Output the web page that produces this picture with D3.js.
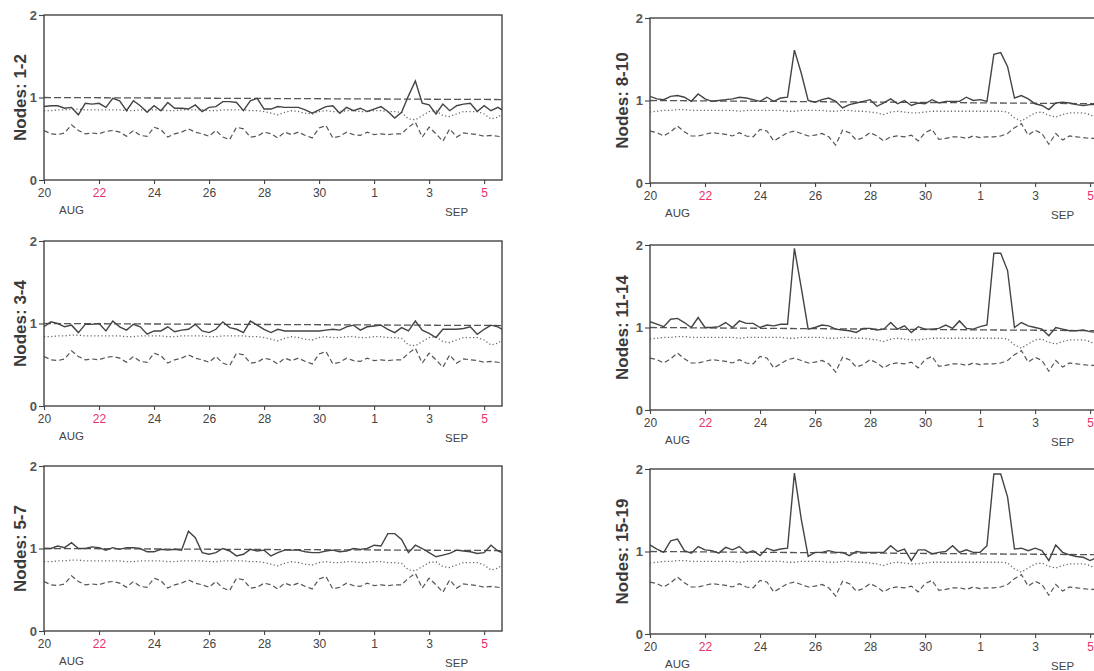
<html>
<head>
<meta charset="utf-8">
<title>nodes</title>
<script src="https://cdn.jsdelivr.net/npm/d3@7"></script>
<style>
  body { margin: 0; background: #fff; }
  .axis path { stroke: #444; stroke-width: 1.3; }
  .axis line { stroke: #444; stroke-width: 1.1; }
  .axis text { font-family: "Liberation Sans", Arial, sans-serif; font-size: 12px; fill: #444; }
  .ylab { font-family: "Liberation Sans", Arial, sans-serif; font-size: 17px; font-weight: bold; fill: #3a3a3a; }
  .mon { font-family: "Liberation Sans", Arial, sans-serif; font-size: 11.5px; fill: #444; }
</style>
</head>
<body>
<script>

// x ticks: days since Aug 20 (6-hourly samples)
var tickDays = [0, 2, 4, 6, 8, 10, 12, 14, 16];
var tickLabels = ['20', '22', '24', '26', '28', '30', '1', '3', '5'];
var redTicks = ['22', '5'];
var yTicks = [0, 1, 2];

var labels = ['Nodes: 1-2', 'Nodes: 8-10', 'Nodes: 3-4', 'Nodes: 11-14', 'Nodes: 5-7', 'Nodes: 15-19'];

var solid12 = [0.89,0.90,0.90,0.87,0.88,0.79,0.93,0.92,0.93,0.88,0.99,0.96,0.84,0.96,0.90,0.82,0.90,0.84,0.94,0.87,
  0.87,0.86,0.91,0.83,0.88,0.89,0.95,0.95,0.94,0.84,0.96,0.99,0.86,0.86,0.89,0.88,0.88,0.88,0.85,0.81,
  0.85,0.89,0.90,0.81,0.88,0.84,0.87,0.83,0.86,0.89,0.83,0.75,0.82,1.02,1.20,0.93,0.91,0.80,0.92,0.84,
  0.90,0.92,0.93,0.83,0.90,0.84,0.88,0.83];
var solid34 = [0.96,1.02,1.00,0.96,0.98,0.89,0.99,0.99,1.00,0.91,1.03,0.96,0.92,0.99,0.96,0.87,0.91,0.91,0.96,0.90,
  0.92,0.93,0.99,0.91,0.89,0.93,1.02,0.95,0.93,0.89,1.03,0.98,0.93,0.89,0.93,0.91,0.91,0.91,0.91,0.91,
  0.91,0.92,0.93,0.92,0.96,0.98,0.92,0.96,0.97,0.98,0.93,0.89,0.95,0.91,1.03,0.92,0.88,0.83,0.93,0.93,
  0.93,0.94,0.96,0.87,0.93,0.98,0.96,0.91];
var solid57 = [1.00,1.00,1.03,1.01,1.07,1.00,1.00,1.02,1.01,0.98,1.01,0.99,1.01,1.01,1.00,0.96,0.96,0.99,0.98,0.99,
  0.98,1.21,1.13,0.95,0.93,0.95,1.00,0.97,0.91,0.93,0.99,0.97,0.98,0.91,0.95,0.98,0.98,0.98,0.96,0.95,
  0.95,0.97,0.98,0.96,0.97,1.00,0.99,1.00,1.04,1.03,1.18,1.18,1.11,0.95,1.04,1.00,0.95,0.90,0.92,0.94,
  0.98,0.97,0.96,0.94,0.95,1.04,0.97,0.94];
var solid810 = [1.05,1.02,1.01,1.05,1.06,1.04,0.99,1.08,1.02,0.99,1.00,1.01,1.02,1.04,1.03,1.01,0.99,1.04,0.99,1.03,
  1.04,1.61,1.33,1.00,0.98,1.01,1.03,0.99,0.91,0.95,0.97,0.99,1.01,0.93,0.97,1.02,0.96,1.00,0.94,0.97,
  0.96,1.01,0.97,0.99,0.99,0.99,1.04,1.00,1.01,0.99,1.56,1.58,1.41,1.03,1.06,1.02,0.96,0.94,0.89,0.97,
  0.98,0.97,0.95,0.94,0.95,0.95,0.94,0.94];
var solid1114 = [1.07,1.04,1.01,1.10,1.11,1.06,1.00,1.12,1.00,1.00,1.01,1.06,1.00,1.08,1.05,1.05,1.00,1.03,1.02,1.04,
  1.04,1.96,1.48,0.98,1.00,1.03,1.02,0.98,0.97,0.96,0.94,0.99,0.99,0.97,0.98,1.06,0.98,1.02,0.94,1.01,
  0.98,0.98,0.99,1.03,0.99,1.08,0.99,0.98,1.01,1.03,1.90,1.90,1.69,1.00,1.06,1.02,1.00,0.98,0.90,1.00,
  0.98,0.96,0.96,0.97,0.95,0.94,0.94,0.93];
var solid1519 = [1.08,1.03,0.99,1.13,1.15,1.01,0.98,1.06,1.02,1.01,0.98,1.05,1.02,1.06,0.98,1.01,0.95,1.04,1.01,1.03,
  1.04,1.95,1.39,0.94,0.99,0.99,1.01,0.99,0.99,0.95,1.00,0.99,0.99,0.99,0.99,1.07,1.00,1.03,0.89,1.02,
  1.02,0.97,0.99,1.00,1.07,0.99,1.02,0.99,0.99,1.07,1.94,1.94,1.66,1.03,1.04,1.01,1.04,1.01,0.89,1.08,
  0.99,0.96,0.94,0.93,0.89,0.93,0.92,0.92];

var dotLeft = [0.84,0.84,0.85,0.85,0.86,0.86,0.85,0.85,0.85,0.85,0.85,0.85,0.84,0.84,0.85,0.85,0.85,0.85,0.84,0.84,
  0.85,0.85,0.85,0.85,0.84,0.84,0.85,0.85,0.85,0.85,0.84,0.84,0.83,0.81,0.79,0.82,0.84,0.83,0.81,0.80,
  0.83,0.84,0.83,0.83,0.84,0.84,0.83,0.83,0.84,0.84,0.83,0.83,0.82,0.74,0.73,0.78,0.83,0.84,0.78,0.77,
  0.80,0.83,0.83,0.83,0.80,0.74,0.76,0.83];
var dotRight = [0.86,0.87,0.88,0.88,0.89,0.89,0.88,0.88,0.88,0.88,0.88,0.88,0.88,0.87,0.88,0.88,0.88,0.88,0.88,0.88,
  0.87,0.87,0.88,0.88,0.88,0.88,0.87,0.87,0.88,0.88,0.87,0.87,0.86,0.85,0.83,0.86,0.87,0.86,0.85,0.85,
  0.86,0.87,0.87,0.87,0.87,0.87,0.87,0.87,0.87,0.87,0.87,0.87,0.86,0.79,0.75,0.80,0.85,0.86,0.82,0.80,
  0.83,0.85,0.85,0.85,0.83,0.78,0.80,0.85];

var lowLeft = [0.60,0.56,0.55,0.57,0.67,0.60,0.56,0.57,0.56,0.59,0.60,0.58,0.53,0.60,0.54,0.53,0.64,0.61,0.52,0.56,
  0.58,0.62,0.58,0.56,0.53,0.60,0.52,0.49,0.64,0.62,0.52,0.53,0.58,0.56,0.51,0.58,0.55,0.58,0.54,0.51,
  0.63,0.66,0.51,0.53,0.58,0.55,0.54,0.58,0.55,0.56,0.55,0.56,0.56,0.64,0.70,0.52,0.64,0.56,0.47,0.62,
  0.52,0.57,0.56,0.55,0.53,0.54,0.53,0.52];
var lowRight = [0.63,0.61,0.57,0.62,0.69,0.62,0.57,0.57,0.59,0.61,0.60,0.59,0.57,0.61,0.57,0.56,0.65,0.63,0.51,0.56,
  0.61,0.63,0.60,0.57,0.58,0.60,0.56,0.46,0.64,0.61,0.52,0.55,0.61,0.57,0.51,0.56,0.57,0.56,0.58,0.51,
  0.61,0.65,0.53,0.54,0.56,0.56,0.54,0.57,0.55,0.56,0.56,0.57,0.60,0.67,0.72,0.58,0.64,0.60,0.47,0.60,
  0.52,0.57,0.56,0.55,0.54,0.54,0.53,0.53];

// reference dashed line, start and end values
var refLeft = [1.00, 0.975];
var refRight = [1.00, 0.96];

var solids = [solid12, solid810, solid34, solid1114, solid57, solid1519];

var margin = {left: 44, right: 650};
var plotW = 458;
var tops = [15, 18, 241, 245, 466, 469];
var plotH = 165;

var svg = d3.select('body').append('svg')
  .attr('width', 1094)
  .attr('height', 671);

labels.forEach(function(lab, p) {
  var right = p % 2 == 1;
  var x0 = right ? margin.right : margin.left;
  var y0 = tops[p];
  var dot = right ? dotRight : dotLeft;
  var low = right ? lowRight : lowLeft;
  var ref = right ? refRight : refLeft;
  var nDays = (solids[p].length - 1) * 0.25;

  var x = d3.scaleLinear().domain([0, 16.65]).range([0, plotW]);
  var y = d3.scaleLinear().domain([0, 2]).range([plotH, 0]);

  var g = svg.append('g').attr('transform', 'translate(' + x0 + ',' + y0 + ')');

  g.append('clipPath').attr('id', 'clip' + p)
    .append('rect').attr('width', plotW).attr('height', plotH);

  var line = d3.line()
    .x(function(d, i) { return x(i * 0.25); })
    .y(function(d) { return y(d); });

  var plot = g.append('g').attr('clip-path', 'url(#clip' + p + ')');

  plot.append('path').datum(low).attr('d', line)
    .attr('fill', 'none').attr('stroke', '#555').attr('stroke-width', 1.2)
    .attr('stroke-dasharray', '5,3');
  plot.append('path').datum(dot).attr('d', line)
    .attr('fill', 'none').attr('stroke', '#666').attr('stroke-width', 1.3)
    .attr('stroke-dasharray', '1.2,2.4');
  plot.append('path')
    .datum([[0, ref[0]], [nDays, ref[1]]])
    .attr('d', d3.line().x(function(d) { return x(d[0]); }).y(function(d) { return y(d[1]); }))
    .attr('fill', 'none').attr('stroke', '#555').attr('stroke-width', 1.3)
    .attr('stroke-dasharray', '7,3');
  plot.append('path').datum(solids[p]).attr('d', line)
    .attr('fill', 'none').attr('stroke', '#444').attr('stroke-width', 1.4);

  // frame
  g.append('rect').attr('width', plotW).attr('height', plotH)
    .attr('fill', 'none').attr('stroke', '#444').attr('stroke-width', 1.4);

  var xAxis = g.append('g').attr('class', 'axis')
    .attr('transform', 'translate(0,' + plotH + ')')
    .call(d3.axisBottom(x).tickValues(tickDays).tickSize(4).tickPadding(4)
      .tickFormat(function(d, i) { return tickLabels[i]; }));
  xAxis.select('.domain').remove();
  xAxis.selectAll('text')
    .style('fill', function(d, i) { return redTicks.indexOf(tickLabels[i]) >= 0 ? '#e8306a' : '#444'; });

  var yAxis = g.append('g').attr('class', 'axis')
    .call(d3.axisLeft(y).tickValues(yTicks).tickSize(5).tickPadding(2).tickFormat(d3.format('d')));
  yAxis.select('.domain').remove();
  yAxis.selectAll('text').style('font-size', '13px').style('font-weight', 'bold').style('fill', '#555');

  g.append('text').attr('class', 'mon')
    .attr('x', x(1)).attr('y', plotH + 34)
    .attr('text-anchor', 'middle').text('AUG');
  g.append('text').attr('class', 'mon')
    .attr('x', x(15)).attr('y', plotH + 36)
    .attr('text-anchor', 'middle').text('SEP');

  g.append('text').attr('class', 'ylab')
    .attr('transform', 'translate(' + (right ? -22 : -18) + ',' + (plotH / 2) + ') rotate(-90)')
    .attr('text-anchor', 'middle')
    .text(lab);
});

</script>
</body>
</html>
